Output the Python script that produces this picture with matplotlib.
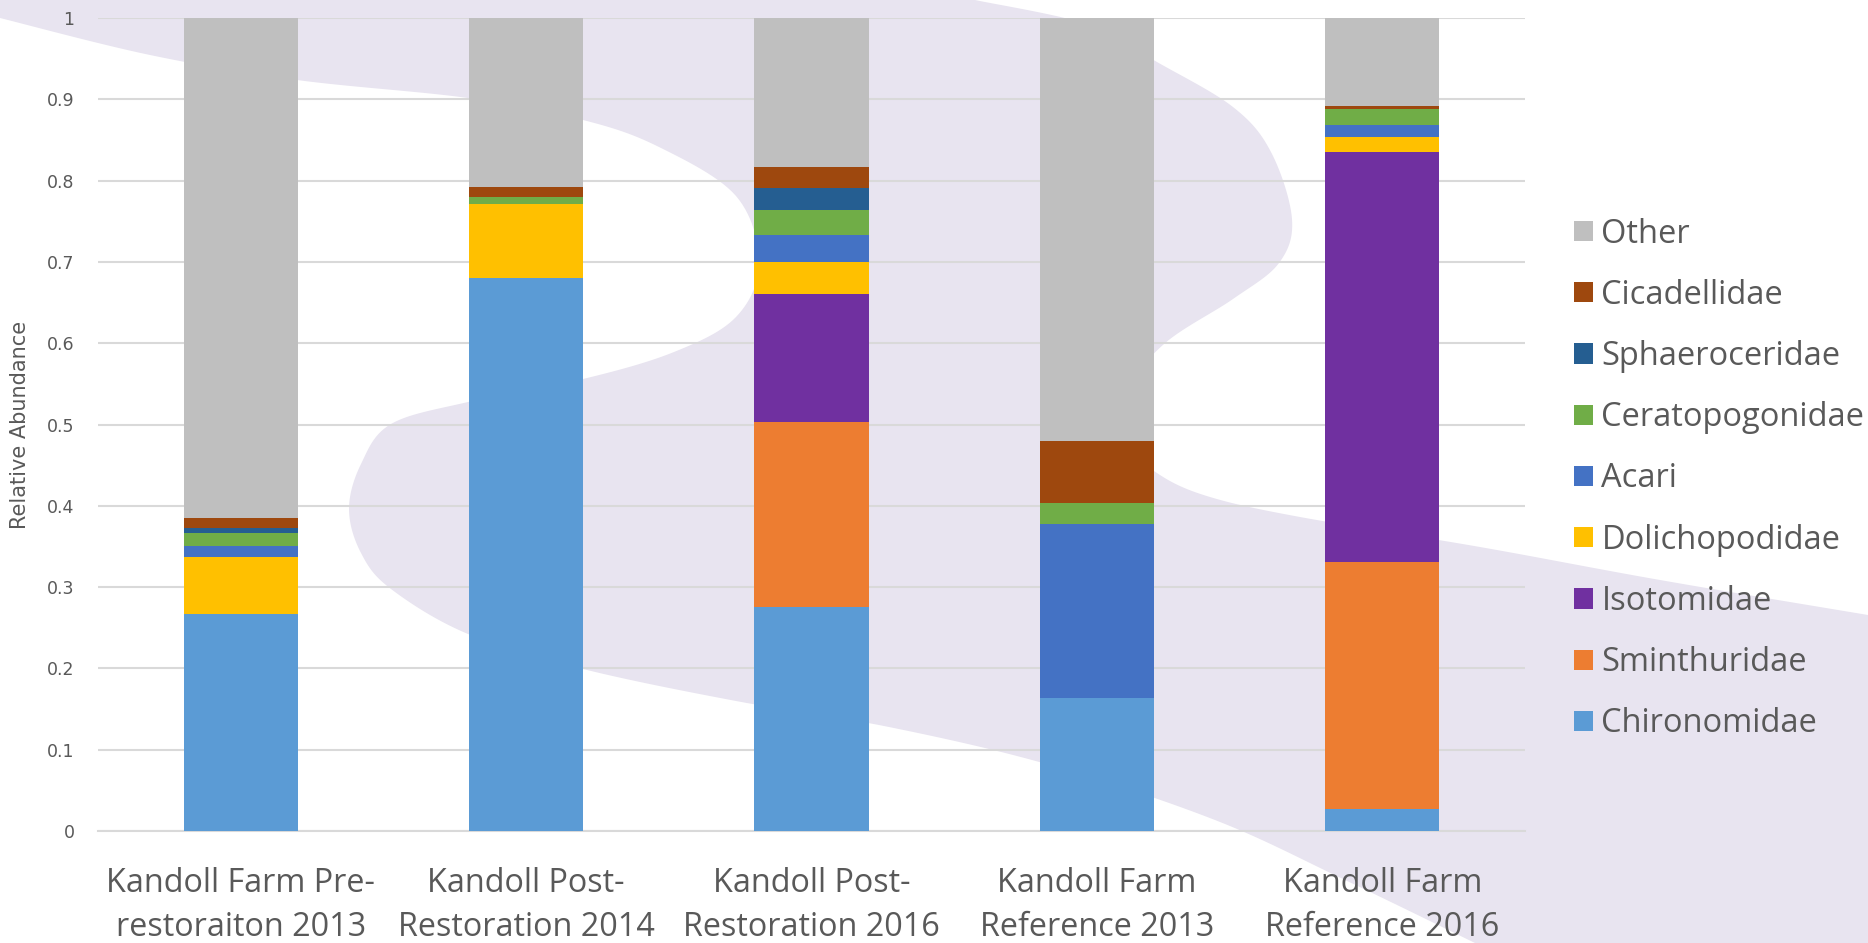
import numpy as np
import matplotlib
matplotlib.use('Agg')
import matplotlib.pyplot as plt
from matplotlib.patches import Polygon

# relative abundance per site, bottom to top of each stack
categories = ["Kandoll Farm Pre-\nrestoraiton 2013", "Kandoll Post-\nRestoration 2014",
              "Kandoll Post-\nRestoration 2016", "Kandoll Farm\nReference 2013",
              "Kandoll Farm\nReference 2016"]
families = ["Chironomidae", "Sminthuridae", "Isotomidae", "Dolichopodidae", "Acari",
            "Ceratopogonidae", "Sphaeroceridae", "Cicadellidae", "Other"]

chironomidae = [0.267, 0.680, 0.275, 0.164, 0.027]
sminthuridae = [0.000, 0.000, 0.228, 0.000, 0.304]
isotomidae = [0.000, 0.000, 0.157, 0.000, 0.504]
dolichopodidae = [0.070, 0.091, 0.040, 0.000, 0.019]
acari = [0.013, 0.000, 0.033, 0.214, 0.015]
ceratopogonidae = [0.016, 0.009, 0.031, 0.026, 0.019]
sphaeroceridae = [0.007, 0.000, 0.027, 0.000, 0.000]
cicadellidae = [0.012, 0.012, 0.026, 0.076, 0.004]
other = [0.615, 0.208, 0.183, 0.520, 0.108]

series = [chironomidae, sminthuridae, isotomidae, dolichopodidae, acari,
          ceratopogonidae, sphaeroceridae, cicadellidae, other]
colors = ['#5B9BD5', '#ED7D31', '#7030A0', '#FFC000', '#4472C4',
          '#70AD47', '#255E91', '#9E480E', '#BFBFBF']

W, H = 1868, 943
TXT = '#595959'
GRID = '#D9D9D9'


def smooth(pts, n=14):
    # Catmull-Rom curve through the control points
    p = np.asarray(pts, float)
    p = np.vstack([p[0], p, p[-1]])
    t = np.linspace(0, 1, n, endpoint=False)[:, None]
    out = []
    for i in range(1, len(p) - 2):
        p0, p1, p2, p3 = p[i - 1], p[i], p[i + 1], p[i + 2]
        out.append(0.5 * (2 * p1 + (-p0 + p2) * t + (2 * p0 - 5 * p1 + 4 * p2 - p3) * t ** 2
                          + (-p0 + 3 * p1 - 3 * p2 + p3) * t ** 3))
    out.append(p[-2][None])
    return np.vstack(out)


fig = plt.figure(figsize=(W / 100, H / 100), dpi=100, facecolor='white')

# lavender swoosh behind the chart (pixel outline, y down)
upper = [(975, 0), (1090, 25), (1157, 62), (1233, 107), (1271, 152), (1292, 219),
         (1279, 263), (1233, 299), (1164, 344), (1125, 395), (1130, 445), (1160, 475),
         (1210, 497), (1300, 517), (1480, 547), (1660, 580), (1868, 615)]
lower = [(1475, 943), (1345, 880), (1215, 820), (1050, 765), (889, 727), (736, 701),
         (583, 669), (468, 634), (391, 589), (361, 553), (349, 509), (361, 464),
         (391, 424), (468, 402), (583, 379), (674, 352), (736, 317), (759, 263),
         (736, 196), (659, 147), (583, 120), (468, 98), (297, 80), (150, 55), (0, 18)]
outline = np.vstack([[(0, 0)], smooth(upper), [(W, H)], smooth(lower)])
outline = np.column_stack([outline[:, 0] / W, 1 - outline[:, 1] / H])
fig.add_artist(Polygon(outline, closed=True, transform=fig.transFigure,
                       facecolor='#E8E4F0', edgecolor='none', zorder=-5))

ax = fig.add_axes([98 / W, 1 - 831 / H, (1525 - 98) / W, (831 - 18) / H])
ax.patch.set_visible(False)

x = np.arange(len(categories))
bottom = np.zeros(len(categories))
bars = []
for vals, c, name in zip(series, colors, families):
    b = ax.bar(x, vals, 0.4, bottom=bottom, color=c, label=name, zorder=3)
    bars.append(b)
    bottom += np.array(vals)

ax.set_xlim(-0.5, 4.5)
ax.set_ylim(0, 1)
yt = np.round(np.arange(0, 1.01, 0.1), 1)
ax.set_yticks(yt)
ax.set_yticklabels(['%g' % v for v in yt], fontsize=12.5, color=TXT, family='DejaVu Sans')
ax.set_xticks(x)
ax.set_xticklabels(categories, fontsize=23.3, color=TXT, family='Open Sans', linespacing=1.43)
ax.tick_params(axis='y', length=0, pad=17)
ax.tick_params(axis='x', length=0, pad=26)
ax.yaxis.grid(True, color=GRID, lw=1.5)
ax.set_axisbelow(True)
for s in ['top', 'right', 'left']:
    ax.spines[s].set_visible(False)
ax.spines['bottom'].set_color(GRID)
ax.spines['bottom'].set_linewidth(1.5)

ax.set_ylabel('Relative Abundance', fontsize=15, color=TXT,
              family=['Liberation Sans Narrow', 'DejaVu Sans'], va='center')
ax.yaxis.set_label_coords(-0.0547, 0.5)

fig.legend(bars[::-1], families[::-1], loc='center left',
           bbox_to_anchor=(1574 / W, 1 - 479 / H), frameon=False,
           prop={'family': 'Open Sans', 'size': 23.5}, labelcolor=TXT,
           handlelength=0.58, handleheight=0.58, handletextpad=0.26,
           labelspacing=0.865, borderpad=0, borderaxespad=0)

fig.savefig('out.png', dpi=100, facecolor='white')
